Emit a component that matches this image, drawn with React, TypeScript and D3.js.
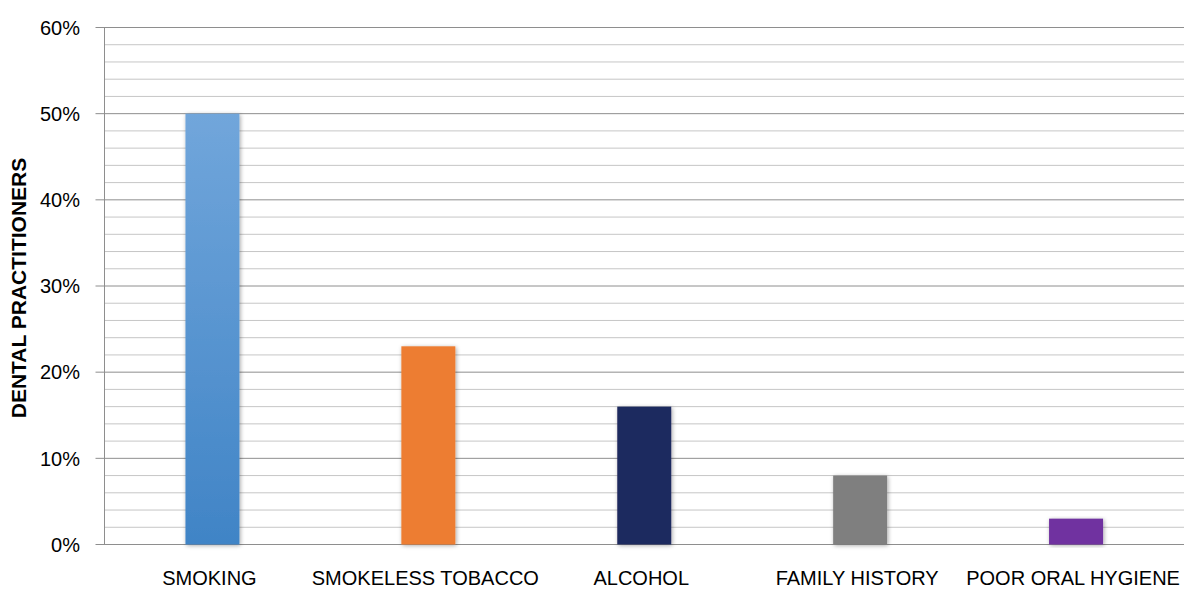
import React from "react";
import * as d3 from "d3";

const categories = ["SMOKING", "SMOKELESS TOBACCO", "ALCOHOL", "FAMILY HISTORY", "POOR ORAL HYGIENE"];
const values = [50, 23, 16, 8, 3];
const barColors = ["url(#smokeGrad)", "#ED7D31", "#1F2A5E", "#7F7F7F", "#7030A0"];
const majorTicks = [0, 10, 20, 30, 40, 50, 60];
const minorTicks = d3.range(0, 61, 2);
const yTitle = "DENTAL PRACTITIONERS";

const W = 1184;
const H = 589;
const left = 104.5;
const right = 1184;
const top = 27.5;
const bottom = 544.5;

export default function App() {
  const x = d3.scaleBand<string>().domain(categories).range([left, right]).paddingInner(0).paddingOuter(0);
  const y = d3.scaleLinear().domain([0, 60]).range([bottom, top]);
  const bw = x.bandwidth() * 0.25;
  const font = "'Liberation Sans', Arial, Helvetica, sans-serif";

  return (
    <svg width={W} height={H} style={{ position: "absolute", left: 0, top: 0, background: "#fff" }}>
      <defs>
        <linearGradient id="smokeGrad" x1="0" y1="0" x2="0" y2="1">
          <stop offset="0" stopColor="#71A6DB" />
          <stop offset="1" stopColor="#4084C6" />
        </linearGradient>
        <filter id="shadow" x="-30%" y="-10%" width="160%" height="120%">
          <feDropShadow dx="1" dy="1" stdDeviation="2.2" floodColor="#000" floodOpacity="0.35" />
        </filter>
      </defs>
      {minorTicks.filter((t) => t % 10 !== 0).map((t) => (
        <line key={"m" + t} x1={left} x2={right} y1={y(t)} y2={y(t)} stroke="#C6C6C6" strokeWidth={1} />
      ))}
      {majorTicks.map((t) => (
        <line key={"M" + t} x1={left - 9} x2={right} y1={y(t)} y2={y(t)} stroke="#8E8E8E" strokeWidth={1} />
      ))}
      <line x1={left} x2={left} y1={top} y2={bottom} stroke="#8E8E8E" strokeWidth={1} />
      {categories.map((c, i) => (
        <rect
          key={c}
          x={(x(c) as number) + x.bandwidth() / 2 - bw / 2}
          y={y(values[i])}
          width={bw}
          height={bottom - y(values[i])}
          fill={barColors[i]}
          filter="url(#shadow)"
        />
      ))}
      {majorTicks.map((t) => (
        <text key={"t" + t} x={80} y={y(t)} dy="0.36em" textAnchor="end" fontFamily={font} fontSize={20} fill="#000">
          {t + "%"}
        </text>
      ))}
      {categories.map((c) => (
        <text key={"l" + c} x={(x(c) as number) + x.bandwidth() / 2 - 3} y={585} textAnchor="middle" fontFamily={font} fontSize={20} fill="#000">
          {c}
        </text>
      ))}
      <text
        transform={`translate(26,${(top + bottom) / 2 + 2}) rotate(-90)`}
        textAnchor="middle"
        fontFamily={font}
        fontSize={21}
        fontWeight="bold"
        fill="#000"
      >
        {yTitle}
      </text>
    </svg>
  );
}
